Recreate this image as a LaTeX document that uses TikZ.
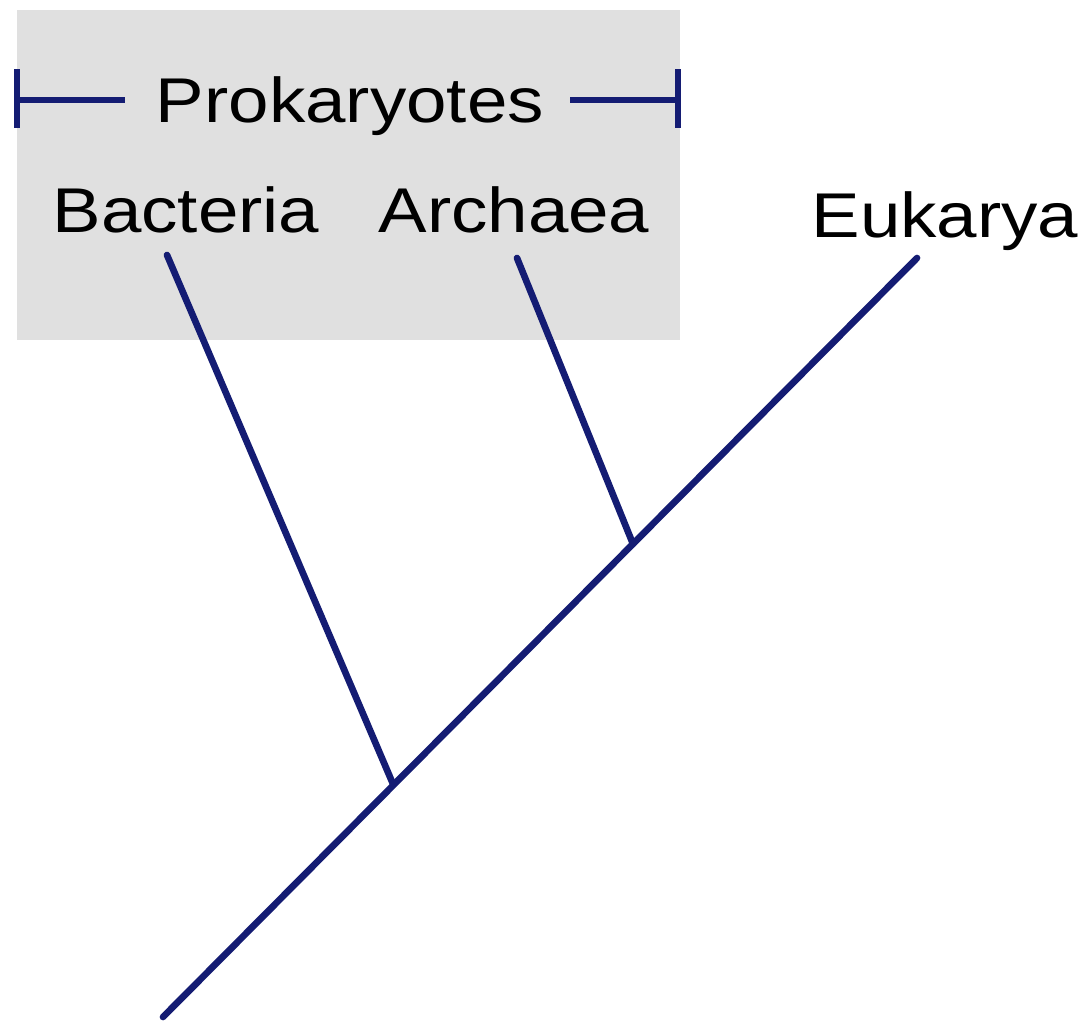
\documentclass[tikz,border=0pt]{standalone}
\usepackage{fontspec}
\setmainfont{Liberation Sans}
\usetikzlibrary{calc}
\begin{document}
\begin{tikzpicture}[x=0.02cm,y=-0.02cm,
  branch/.style={draw=navyline,line width=3.8pt,line cap=round},
  bracketline/.style={draw=navyline,line width=3pt},
  label/.style={anchor=base,inner sep=0pt,text=black,font=\fontsize{36}{40}\selectfont}]
\definecolor{navyline}{RGB}{20,28,115}
\definecolor{boxgray}{RGB}{224,224,224}
\useasboundingbox (0,0) rectangle (1084,1021);
\fill[white] (0,0) rectangle (1084,1021);
% grey box
\node[fill=boxgray,inner sep=0pt,minimum width=663*0.02cm,minimum height=330*0.02cm,anchor=north west] (box) at (17,10) {};
% labels
\node[label] (prok) at (350,122) {\scalebox{1.15}[1]{Prokaryotes}};
\node[label] (bact) at (186,232) {\scalebox{1.15}[1]{Bacteria}};
\node[label] (arch) at (514,232) {\scalebox{1.15}[1]{Archaea}};
\node[label] (euk) at (945,237) {\scalebox{1.15}[1]{Eukarya}};
% bracket
\coordinate (bl) at (17,100);
\coordinate (blin) at (125,100);
\coordinate (br) at (678,100);
\coordinate (brin) at (570,100);
\draw[bracketline] (bl) -- (blin);
\draw[bracketline] (brin) -- (br);
\draw[bracketline] ($(bl)+(0,-31)$) -- ($(bl)+(0,28)$);
\draw[bracketline] ($(br)+(0,-31)$) -- ($(br)+(0,28)$);
% tree
\coordinate (root) at (163,1017);
\coordinate (etip) at (917,258);
\coordinate (j1) at (393,784);
\coordinate (j2) at (633,544);
\coordinate (btip) at (167,255);
\coordinate (atip) at (517,258);
\draw[branch] (root) -- (etip);
\draw[branch] (btip) -- (j1);
\draw[branch] (atip) -- (j2);
\end{tikzpicture}
\end{document}
